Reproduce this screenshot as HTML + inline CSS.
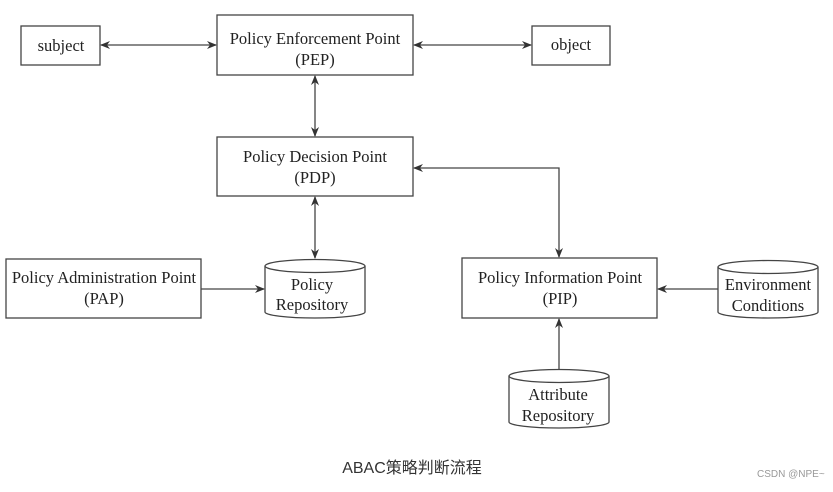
<!DOCTYPE html>
<html><head><meta charset="utf-8"><style>
body{margin:0;background:#fff;width:833px;height:487px;overflow:hidden}
svg text{font-family:"Liberation Serif",serif;font-size:16.5px;fill:#222}
</style></head><body>
<svg width="833" height="487" viewBox="0 0 833 487" xmlns="http://www.w3.org/2000/svg">
<defs><marker id="a" markerWidth="10" markerHeight="8" refX="9" refY="4" orient="auto-start-reverse" markerUnits="userSpaceOnUse"><path d="M0,0 L10,4 L0,8 L3,4z" fill="#333"/></marker></defs>
<g fill="none" stroke="#444" stroke-width="1.3">
<rect x="21" y="26" width="79" height="39"/>
<rect x="217" y="15" width="196" height="60"/>
<rect x="532" y="26" width="78" height="39"/>
<rect x="217" y="137" width="196" height="59"/>
<rect x="6" y="259" width="195" height="59"/>
<rect x="462" y="258" width="195" height="60"/>
<path d="M265,266 v46 a50,6 0 0 0 100,0 v-46"/><ellipse cx="315" cy="266" rx="50" ry="6.5"/>
<path d="M718,267 v45 a50,6 0 0 0 100,0 v-45"/><ellipse cx="768" cy="267" rx="50" ry="6.5"/>
<path d="M509,376 v46 a50,6 0 0 0 100,0 v-46"/><ellipse cx="559" cy="376" rx="50" ry="6.5"/>
<line x1="101" y1="45" x2="216" y2="45" marker-start="url(#a)" marker-end="url(#a)"/>
<line x1="414" y1="45" x2="531" y2="45" marker-start="url(#a)" marker-end="url(#a)"/>
<line x1="315" y1="76" x2="315" y2="136" marker-start="url(#a)" marker-end="url(#a)"/>
<line x1="315" y1="197" x2="315" y2="258" marker-start="url(#a)" marker-end="url(#a)"/>
<line x1="201" y1="289" x2="264" y2="289" marker-end="url(#a)"/>
<polyline points="414,168 559,168 559,257" marker-start="url(#a)" marker-end="url(#a)"/>
<line x1="718" y1="289" x2="658" y2="289" marker-end="url(#a)"/>
<line x1="559" y1="369" x2="559" y2="319" marker-end="url(#a)"/>
</g>
<g text-anchor="middle">
<text x="61" y="51">subject</text>
<text x="315" y="44">Policy Enforcement Point</text><text x="315" y="65">(PEP)</text>
<text x="571" y="50">object</text>
<text x="315" y="162">Policy Decision Point</text><text x="315" y="183">(PDP)</text>
<text x="104" y="283">Policy Administration Point</text><text x="104" y="304">(PAP)</text>
<text x="312" y="290">Policy</text><text x="312" y="310">Repository</text>
<text x="768" y="290">Environment</text><text x="768" y="311">Conditions</text>
<text x="560" y="283">Policy Information Point</text><text x="560" y="304">(PIP)</text>
<text x="558" y="400">Attribute</text><text x="558" y="421">Repository</text>
<text x="412" y="473" style="font-family:'Liberation Sans','Noto Sans CJK SC',sans-serif;font-size:16px;fill:#333">ABAC策略判断流程</text>
</g>
<text x="757" y="477" style="font-family:'Liberation Sans',sans-serif;font-size:10px;fill:#999">CSDN @NPE~</text>
</svg>
</body></html>
